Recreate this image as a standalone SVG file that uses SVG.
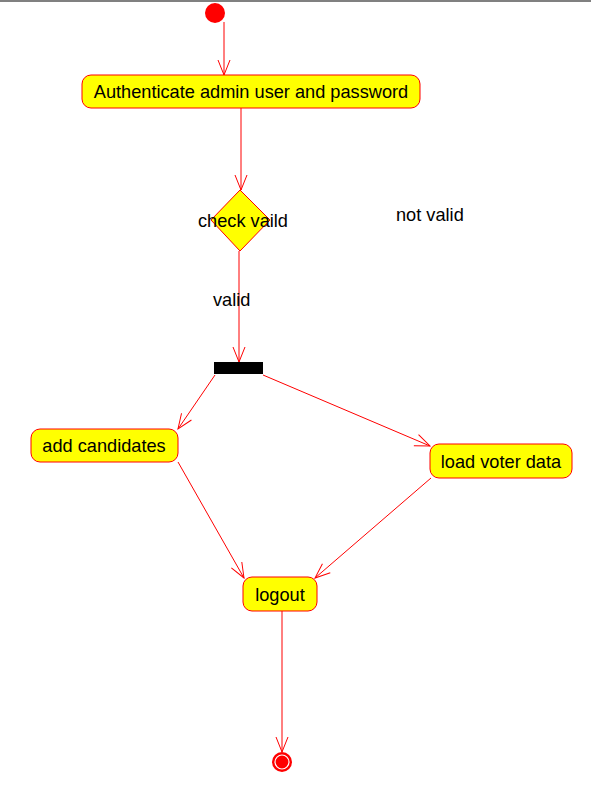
<svg xmlns="http://www.w3.org/2000/svg" width="591" height="797" viewBox="0 0 591 797">
<style>
.act{fill:#ffff00;stroke:#ff0000;stroke-width:1}
.t{font-family:"Liberation Sans",Arial,sans-serif;font-size:18.2px;fill:#000}
.c{fill:none;stroke:#ff0000;stroke-width:1}
</style>
<defs>
<marker id="arr" viewBox="-16 -8 17 16" refX="0" refY="0" markerWidth="17" markerHeight="16" markerUnits="userSpaceOnUse" orient="auto">
<path d="M-15,-6 L0,0 L-15,6" fill="none" stroke="#ff0000" stroke-width="1"/>
</marker>
</defs>
<rect width="591" height="797" fill="#fff"/>
<line x1="0" y1="1" x2="591" y2="1" stroke="#808080" stroke-width="2"/>
<g id="connectors">
<line class="c" x1="224" y1="22" x2="224" y2="75" marker-end="url(#arr)"/>
<line class="c" x1="241" y1="108" x2="241" y2="190" marker-end="url(#arr)"/>
<line class="c" x1="239" y1="251" x2="239" y2="362" marker-end="url(#arr)"/>
<line class="c" x1="215" y1="375" x2="178" y2="429" marker-end="url(#arr)"/>
<line class="c" x1="263" y1="375" x2="430" y2="446" marker-end="url(#arr)"/>
<line class="c" x1="178" y1="462" x2="244" y2="578" marker-end="url(#arr)"/>
<line class="c" x1="431" y1="478" x2="315" y2="578" marker-end="url(#arr)"/>
<line class="c" x1="282" y1="611" x2="282" y2="752" marker-end="url(#arr)"/>
<text class="t" x="213" y="306">valid</text>
<text class="t" x="396" y="221">not valid</text>
</g>
<g id="start"><circle cx="215" cy="13" r="10" fill="#ff0000"/></g>
<g id="auth">
<rect class="act" x="82" y="75" width="338" height="33" rx="9"/>
<text class="t" x="251" y="98" text-anchor="middle">Authenticate admin user and password</text>
</g>
<g id="check">
<polygon class="act" points="240,190 270,220 240,251 211,220"/>
<text class="t" x="243" y="227" text-anchor="middle">check vaild</text>
</g>
<g id="fork"><rect x="214" y="362" width="49" height="12" fill="#000"/></g>
<g id="add">
<rect class="act" x="31" y="429" width="147" height="33" rx="9"/>
<text class="t" x="104" y="452" text-anchor="middle">add candidates</text>
</g>
<g id="load">
<rect class="act" x="430" y="444" width="142" height="34" rx="9"/>
<text class="t" x="501" y="468" text-anchor="middle">load voter data</text>
</g>
<g id="logout">
<rect class="act" x="243" y="577" width="74" height="34" rx="9"/>
<text class="t" x="280" y="601" text-anchor="middle">logout</text>
</g>
<g id="end">
<circle cx="282" cy="762" r="10" fill="#ff0000"/>
<circle cx="282" cy="762" r="7" fill="none" stroke="#fff" stroke-width="1.2"/>
</g>
</svg>
